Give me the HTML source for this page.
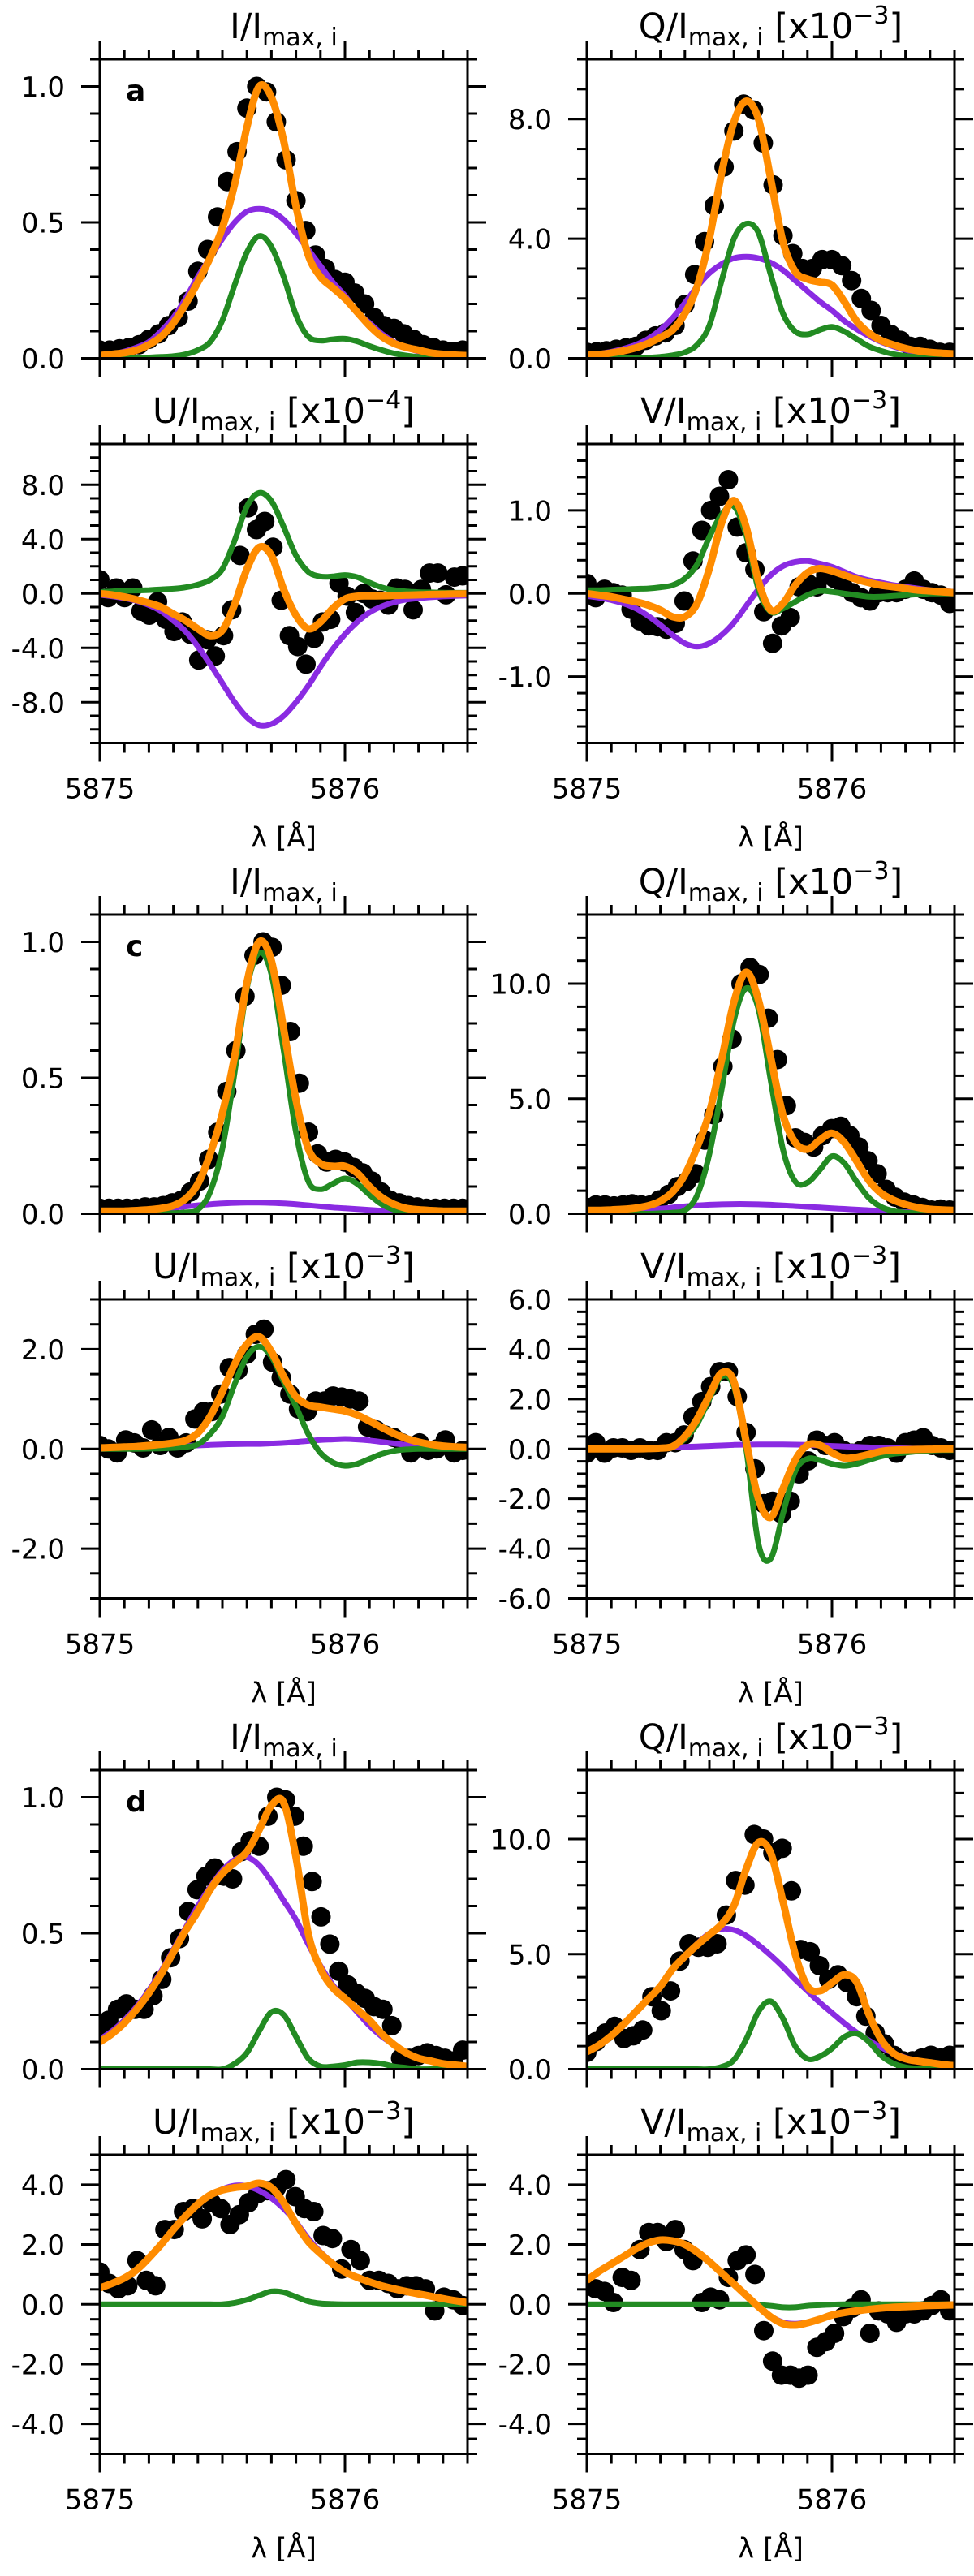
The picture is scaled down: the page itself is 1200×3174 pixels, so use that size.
<!DOCTYPE html>
<html><head><meta charset="utf-8"><style>
html,body{margin:0;padding:0;background:#fff;}
svg{display:block;font-family:"DejaVu Sans","Liberation Sans",sans-serif;}
</style></head><body>
<svg id="fig" xmlns="http://www.w3.org/2000/svg" width="1200" height="3174" viewBox="0 0 1200 3174">
<rect x="0" y="0" width="1200" height="3174" fill="#fff"/>
</svg>
<script>
// wavelength grid of the model curves (Å)
const lam = [5875.00,5875.05,5875.10,5875.15,5875.20,5875.25,5875.30,5875.35,5875.40,5875.45,5875.50,5875.55,5875.60,5875.65,5875.70,5875.75,5875.80,5875.85,5875.90,5875.95,5876.00,5876.05,5876.10,5876.15,5876.20,5876.25,5876.30,5876.35,5876.40,5876.45,5876.50];
const xTickMajor = [5875, 5876];
const xTickLabels = ["5875", "5876"];

// ---- panel a ----
const Ia_p = [.01,.015,.025,.04,.06,.1,.15,.22,.3,.37,.44,.5,.54,.55,.54,.51,.46,.4,.34,.28,.23,.17,.13,.09,.06,.04,.025,.015,.01,.005,.003];
const Ia_g = [0,0,0,.002,.003,.005,.008,.015,.03,.06,.14,.27,.39,.45,.41,.3,.16,.08,.065,.07,.072,.062,.045,.03,.018,.01,.005,.003,.002,.001,0];
const Ia_o = [.01,.015,.02,.03,.05,.08,.13,.2,.28,.37,.48,.64,.85,1.0,.96,.8,.56,.38,.3,.26,.22,.17,.12,.08,.055,.04,.03,.02,.015,.012,.01];
const Ia_d = [.03,.03,.035,.04,.05,.07,.09,.12,.15,.21,.32,.4,.52,.65,.76,.92,1.0,.98,.87,.73,.58,.47,.38,.33,.29,.28,.24,.2,.15,.12,.11,.09,.07,.05,.04,.03,.025,.03];

const Qa_p = [.1,.15,.22,.32,.45,.65,.95,1.35,1.85,2.4,2.85,3.15,3.35,3.4,3.35,3.2,2.95,2.6,2.25,1.9,1.6,1.25,.98,.75,.55,.4,.28,.2,.14,.1,.07];
const Qa_g = [0,0,0,0,.01,.02,.05,.1,.2,.45,1.1,2.6,4.0,4.5,4.2,2.8,1.5,.9,.8,.95,1.05,.9,.65,.4,.25,.14,.08,.04,.02,.01,0];
const Qa_o = [.1,.13,.18,.25,.35,.5,.7,.95,1.5,2.4,4.0,6.2,7.9,8.6,8.0,6.0,3.9,2.9,2.65,2.55,2.45,1.9,1.25,.85,.6,.45,.33,.25,.2,.17,.15];
const Qa_d = [.2,.22,.25,.3,.35,.4,.6,.75,.85,1.1,1.8,2.8,3.9,5.1,6.4,7.6,8.5,8.3,7.2,5.8,4.1,3.5,3.0,3.0,3.3,3.3,3.1,2.6,2.0,1.6,1.1,.8,.6,.4,.4,.3,.2,.2];

const Ua_p = [-.1,-.2,-.35,-.55,-.85,-1.3,-2.0,-2.8,-3.9,-5.2,-6.6,-8.0,-9.1,-9.7,-9.6,-9.0,-8.0,-6.8,-5.4,-4.1,-3.0,-2.1,-1.4,-.95,-.65,-.45,-.35,-.28,-.22,-.18,-.15];
const Ua_g = [.1,.15,.2,.22,.25,.3,.35,.45,.65,1.0,1.8,3.9,6.4,7.4,6.8,4.9,2.8,1.6,1.25,1.25,1.35,1.2,.8,.45,.25,.15,.1,.08,.06,.05,.05];
const Ua_o = [0,-.1,-.25,-.45,-.7,-1.0,-1.5,-2.0,-2.6,-3.1,-2.7,-.8,1.8,3.4,2.8,.3,-1.6,-2.6,-2.1,-1.1,-.4,-.2,-.18,-.17,-.15,-.12,-.1,-.07,-.05,-.03,-.02];
const Ua_d = [1.0,-.3,.4,-.3,.4,-1.3,-1.6,-.6,-1.9,-2.8,-2.1,-3.0,-4.9,-3.4,-4.6,-3.1,-1.2,2.8,6.3,4.7,5.3,3.4,-.5,-3.1,-3.9,-5.2,-3.3,-2.1,-1.9,.75,-.2,-1.4,0,-.4,-.5,-.85,.4,.3,-1.2,.3,1.5,1.5,-.1,1.2,1.3];

const Va_p = [-.03,-.05,-.08,-.12,-.18,-.27,-.38,-.5,-.6,-.64,-.6,-.5,-.35,-.15,.05,.22,.33,.38,.39,.36,.32,.26,.2,.16,.13,.1,.08,.06,.04,.03,.02];
const Va_g = [.04,.04,.045,.05,.055,.06,.075,.1,.18,.35,.68,.95,1.05,.7,.05,-.22,-.18,-.1,-.02,.03,.02,0,-.02,-.04,-.04,-.03,-.02,-.01,0,0,0];
const Va_o = [0,-.02,-.04,-.07,-.1,-.14,-.2,-.28,-.28,-.12,.3,.85,1.12,.8,.15,-.2,-.12,.1,.25,.3,.27,.22,.17,.13,.1,.08,.06,.04,.03,.02,.01];
const Va_d = [.12,-.05,.05,.01,-.02,-.19,-.33,-.39,-.4,-.43,-.36,-.09,.39,.76,1.0,1.17,1.37,.8,.49,.29,-.22,-.6,-.39,-.29,.08,.12,.08,.22,.18,.08,.01,-.05,-.09,.01,.01,.01,.05,.15,.05,.01,-.02,-.12];

// ---- panel c ----
const Ic_p = [.005,.006,.008,.01,.013,.017,.022,.027,.031,.035,.038,.04,.041,.041,.04,.038,.035,.031,.027,.023,.02,.017,.014,.011,.009,.007,.006,.005,.004,.003,.003];
const Ic_g = [0,0,0,0,0,0,.002,.005,.015,.08,.24,.52,.83,.96,.88,.6,.3,.12,.09,.11,.13,.11,.07,.035,.015,.006,.002,0,0,0,0];
const Ic_o = [.01,.01,.01,.012,.015,.02,.03,.055,.11,.22,.37,.58,.85,1.0,.93,.68,.42,.24,.185,.175,.175,.15,.1,.06,.035,.02,.015,.012,.01,.01,.01];
const Ic_d = [.02,.02,.02,.02,.02,.025,.025,.03,.04,.05,.08,.12,.2,.3,.45,.6,.8,.95,1.0,.98,.84,.67,.48,.3,.22,.19,.2,.19,.17,.15,.12,.08,.05,.04,.03,.025,.02,.02,.02,.02,.02];

const Qc_p = [.05,.06,.08,.1,.13,.17,.22,.27,.32,.36,.39,.41,.42,.42,.41,.39,.36,.33,.3,.27,.24,.21,.18,.15,.12,.09,.07,.05,.04,.03,.02];
const Qc_g = [0,0,0,0,0,0,.02,.05,.15,.8,2.6,5.4,8.4,9.8,8.9,5.8,2.8,1.4,1.35,1.9,2.5,2.2,1.4,.7,.3,.12,.05,.02,0,0,0];
const Qc_o = [.15,.15,.17,.2,.25,.35,.55,.95,1.7,2.9,4.4,6.7,9.2,10.5,9.3,6.8,4.3,3.1,2.8,3.2,3.5,3.1,2.3,1.45,.9,.6,.4,.27,.2,.17,.15];
const Qc_d = [.27,.38,.38,.34,.38,.43,.38,.38,.6,.84,1.18,1.4,1.74,3.2,4.3,6.4,7.6,10.0,10.7,10.4,8.5,6.7,4.7,3.3,3.1,2.9,3.4,3.7,3.8,3.4,2.9,2.3,1.74,1.06,.72,.5,.38,.27,.16,.2,.16];

const Uc_p = [0,.005,.01,.02,.03,.04,.05,.06,.07,.08,.09,.095,.1,.1,.11,.12,.14,.16,.18,.19,.2,.19,.17,.14,.11,.08,.06,.04,.03,.02,.01];
const Uc_g = [0,0,0,0,.005,.01,.02,.04,.09,.3,.65,1.3,1.85,2.05,1.85,1.35,.85,.3,-.08,-.27,-.34,-.3,-.2,-.1,-.04,-.01,0,0,0,0,0];
const Uc_o = [.02,.03,.04,.05,.07,.09,.12,.17,.32,.65,1.15,1.7,2.1,2.25,1.95,1.45,1.05,.88,.84,.8,.76,.68,.56,.43,.31,.21,.14,.09,.06,.04,.03];
const Uc_d = [.07,0,-.08,.18,.12,.02,.38,.07,.23,.02,.12,.6,.75,.75,1.1,1.63,1.58,1.9,2.3,2.4,1.74,1.43,1.1,.8,.75,.96,.96,1.06,1.04,1.0,.96,.44,.38,.28,.23,.12,-.08,.12,-.03,0,.18,-.08,-.03];

const Vc_p = [0,0,.01,.01,.02,.03,.04,.06,.08,.1,.12,.14,.16,.17,.18,.18,.18,.17,.16,.14,.12,.1,.08,.06,.04,.03,.02,.01,.01,0,0];
const Vc_g = [0,0,0,0,0,.01,.02,.1,.4,1.0,2.0,2.9,2.5,0,-3.8,-4.4,-2.6,-.9,-.4,-.45,-.6,-.68,-.6,-.45,-.3,-.2,-.15,-.1,-.07,-.05,-.05];
const Vc_o = [0,0,0,0,0,.01,.03,.1,.5,1.2,2.15,3.05,2.7,.3,-2.0,-2.75,-1.6,-.45,.15,.15,-.15,-.37,-.33,-.22,-.1,-.05,-.03,-.02,-.01,0,0];
const Vc_d = [-.17,.25,-.17,.04,.04,-.06,.04,-.06,-.06,.25,.25,.56,1.28,1.9,2.5,3.1,3.1,2.1,.66,-.8,-2.2,-2.1,-2.6,-2.1,-1.0,-.48,.35,.14,.25,-.06,-.17,-.06,.14,.14,.04,-.17,.25,.35,.45,.14,.04,-.06];

// ---- panel d ----
const Id_p = [.11,.14,.18,.23,.29,.36,.44,.52,.6,.67,.73,.77,.78,.75,.69,.62,.55,.46,.38,.31,.26,.21,.16,.12,.09,.06,.04,.03,.02,.015,.01];
const Id_g = [0,0,0,0,0,0,0,0,0,0,0,.02,.06,.14,.21,.2,.12,.04,.01,.01,.015,.025,.025,.02,.01,.005,0,0,0,0,0];
const Id_o = [.1,.13,.17,.22,.28,.35,.43,.51,.58,.66,.72,.76,.8,.88,.97,.98,.78,.5,.37,.3,.26,.22,.18,.13,.09,.06,.04,.03,.02,.015,.01];
const Id_d = [.15,.18,.22,.24,.22,.22,.27,.33,.41,.48,.58,.66,.71,.74,.71,.7,.8,.84,.82,.93,1.0,.99,.93,.82,.69,.56,.46,.36,.31,.28,.26,.23,.22,.16,.04,.04,.05,.06,.05,.04,.03,.07];

const Qd_p = [.75,1.05,1.45,1.95,2.5,3.05,3.6,4.35,4.9,5.45,5.9,6.1,6.05,5.8,5.4,4.95,4.45,3.9,3.4,2.9,2.45,2.0,1.6,1.25,.95,.7,.5,.35,.25,.18,.12];
const Qd_g = [0,0,0,0,0,0,0,0,0,0,0,.1,.4,1.3,2.5,2.95,2.2,1.0,.45,.55,.9,1.4,1.55,1.2,.6,.25,.08,.02,0,0,0];
const Qd_o = [.75,1.05,1.45,1.95,2.5,3.05,3.6,4.35,4.9,5.4,5.85,6.3,7.1,8.7,9.85,9.4,7.3,5.0,3.6,3.4,3.75,4.1,3.8,2.4,1.3,.7,.45,.35,.28,.2,.15];
const Qd_d = [.73,1.2,1.57,1.86,1.33,1.45,1.7,3.15,2.54,3.4,4.7,5.45,5.3,5.3,5.45,6.7,8.2,8.0,10.2,10.0,9.4,9.6,7.75,5.2,5.1,4.5,3.9,4.1,3.75,3.15,2.3,1.57,1.1,.6,.36,.36,.48,.6,.48,.6];

const Ud_p = [.55,.7,.88,1.15,1.55,2.0,2.5,2.95,3.35,3.65,3.85,3.97,3.95,3.8,3.55,3.2,2.75,2.2,1.75,1.38,1.1,.9,.75,.62,.52,.43,.35,.27,.19,.12,.06];
const Ud_g = [0,0,0,0,0,0,0,0,0,0,0,.05,.15,.3,.43,.4,.25,.1,.03,.01,0,0,0,0,0,0,0,0,0,0,0];
const Ud_o = [.55,.7,.88,1.15,1.55,2.0,2.5,2.95,3.35,3.65,3.82,3.9,3.95,4.05,3.9,3.4,2.7,2.1,1.7,1.35,1.08,.9,.75,.62,.52,.43,.35,.27,.19,.12,.06];
const Ud_d = [1.08,.7,.52,.62,1.46,.8,.62,2.5,2.5,3.1,3.2,2.86,3.4,3.2,2.67,3.0,3.4,3.7,3.8,3.9,4.17,3.6,3.2,3.1,2.3,2.2,1.18,1.83,1.46,.8,.8,.7,.52,.62,.62,.52,-.22,.24,.15,-.04];

const Vd_p = [.8,1.1,1.35,1.6,1.85,2.05,2.15,2.12,2.0,1.75,1.42,1.05,.68,.3,-.08,-.4,-.6,-.65,-.6,-.5,-.36,-.28,-.22,-.17,-.13,-.1,-.08,-.06,-.04,-.03,-.02];
const Vd_g = [0,0,0,0,0,0,0,0,0,0,0,0,0,0,-.02,-.05,-.1,-.1,-.05,-.03,-.01,0,0,0,0,0,0,0,0,0,0];
const Vd_o = [.8,1.1,1.35,1.6,1.85,2.05,2.15,2.12,2.0,1.75,1.42,1.05,.68,.3,-.08,-.42,-.65,-.7,-.62,-.5,-.36,-.28,-.22,-.17,-.13,-.1,-.08,-.06,-.04,-.03,-.02];
const Vd_d = [.6,.52,.43,.06,.9,.8,1.83,2.4,2.4,2.1,2.5,1.83,1.46,.06,.24,.15,.9,1.46,1.65,1.0,-.88,-1.9,-2.37,-2.37,-2.47,-2.37,-1.44,-1.25,-.97,-.41,-.13,.15,-.97,-.22,-.32,-.6,-.32,-.32,-.22,-.04,.15,-.22];

// ---- layout (styling, not data) ----
const NS = "http://www.w3.org/2000/svg";
const svg = document.getElementById("fig");
const COLX = [123, 723];
const PXPERA = 302;
const SECOFF = 1054;
const ROWTOP = [73, 547];
const ROWH = 368.5;
const C_P = "#8a2be2", C_G = "#228b22", C_O = "#ff8c00";

function el(tag, attrs, parent) {
  const e = document.createElementNS(NS, tag);
  for (const k in attrs) e.setAttribute(k, attrs[k]);
  (parent || svg).appendChild(e);
  return e;
}

function smoothPath(pts) {
  let d = "M" + pts[0][0].toFixed(1) + "," + pts[0][1].toFixed(1);
  for (let i = 0; i < pts.length - 1; i++) {
    const p0 = pts[Math.max(0, i - 1)], p1 = pts[i], p2 = pts[i + 1], p3 = pts[Math.min(pts.length - 1, i + 2)];
    const c1x = p1[0] + (p2[0] - p0[0]) / 6, c1y = p1[1] + (p2[1] - p0[1]) / 6;
    const c2x = p2[0] - (p3[0] - p1[0]) / 6, c2y = p2[1] - (p3[1] - p1[1]) / 6;
    d += " C" + c1x.toFixed(1) + "," + c1y.toFixed(1) + " " + c2x.toFixed(1) + "," + c2y.toFixed(1) + " " + p2[0].toFixed(1) + "," + p2[1].toFixed(1);
  }
  return d;
}

const panels = [
  {sec:0,row:0,col:0,kind:"I",exp:"",ymin:0,ymax:1.1,maj:0.5,min:0.1,p:Ia_p,g:Ia_g,o:Ia_o,d:Ia_d,lab:"a",name:"panel-a-i"},
  {sec:0,row:0,col:1,kind:"Q",exp:"−3",ymin:0,ymax:10,maj:4,min:1,p:Qa_p,g:Qa_g,o:Qa_o,d:Qa_d,name:"panel-a-q"},
  {sec:0,row:1,col:0,kind:"U",exp:"−4",ymin:-11,ymax:11,maj:4,min:1,p:Ua_p,g:Ua_g,o:Ua_o,d:Ua_d,name:"panel-a-u"},
  {sec:0,row:1,col:1,kind:"V",exp:"−3",ymin:-1.8,ymax:1.8,maj:1,min:0.2,p:Va_p,g:Va_g,o:Va_o,d:Va_d,name:"panel-a-v"},
  {sec:1,row:0,col:0,kind:"I",exp:"",ymin:0,ymax:1.1,maj:0.5,min:0.1,p:Ic_p,g:Ic_g,o:Ic_o,d:Ic_d,lab:"c",name:"panel-c-i"},
  {sec:1,row:0,col:1,kind:"Q",exp:"−3",ymin:0,ymax:13,maj:5,min:1,p:Qc_p,g:Qc_g,o:Qc_o,d:Qc_d,name:"panel-c-q"},
  {sec:1,row:1,col:0,kind:"U",exp:"−3",ymin:-3,ymax:3,maj:2,min:0.5,p:Uc_p,g:Uc_g,o:Uc_o,d:Uc_d,name:"panel-c-u"},
  {sec:1,row:1,col:1,kind:"V",exp:"−3",ymin:-6,ymax:6,maj:2,min:0.5,p:Vc_p,g:Vc_g,o:Vc_o,d:Vc_d,name:"panel-c-v"},
  {sec:2,row:0,col:0,kind:"I",exp:"",ymin:0,ymax:1.1,maj:0.5,min:0.1,p:Id_p,g:Id_g,o:Id_o,d:Id_d,lab:"d",name:"panel-d-i"},
  {sec:2,row:0,col:1,kind:"Q",exp:"−3",ymin:0,ymax:13,maj:5,min:1,p:Qd_p,g:Qd_g,o:Qd_o,d:Qd_d,name:"panel-d-q"},
  {sec:2,row:1,col:0,kind:"U",exp:"−3",ymin:-5,ymax:5,maj:2,min:0.5,p:Ud_p,g:Ud_g,o:Ud_o,d:Ud_d,name:"panel-d-u"},
  {sec:2,row:1,col:1,kind:"V",exp:"−3",ymin:-5,ymax:5,maj:2,min:0.5,p:Vd_p,g:Vd_g,o:Vd_o,d:Vd_d,name:"panel-d-v"}
];

panels.forEach(function (P, pi) {
  const x0 = COLX[P.col], x1 = x0 + 1.5 * PXPERA;
  const top = ROWTOP[P.row] + P.sec * SECOFF, bot = top + ROWH;
  const xs = function (l) { return x0 + (l - 5875) * PXPERA; };
  const ys = function (v) { return bot - (v - P.ymin) / (P.ymax - P.ymin) * ROWH; };
  const g = el("g", {});
  
  

  const cp = el("clipPath", {id: "clip" + pi}, g);
  el("rect", {x: x0, y: top, width: x1 - x0, height: bot - top}, cp);

  // dots
  const dg = el("g", {"clip-path": "url(#clip" + pi + ")"}, g);
  
  
  const n = P.d.length;
  P.d.forEach(function (v, i) {
    const l = 5875 + i * 1.48 / (n - 1);
    const c = el("circle", {cx: xs(l).toFixed(1), cy: ys(v).toFixed(1), r: 12, fill: "#000"}, dg);
    
    
  });

  // curves
  [[P.p, C_P, 7, "component-1-fit"], [P.g, C_G, 7, "component-2-fit"], [P.o, C_O, 9, "total-fit"]].forEach(function (c) {
    const pts = c[0].map(function (v, i) { return [xs(lam[i]), ys(v)]; });
    const pl = el("path", {d: smoothPath(pts), fill: "none", stroke: c[1], "stroke-width": c[2], "stroke-linejoin": "round", "stroke-linecap": "butt", "clip-path": "url(#clip" + pi + ")"}, g);
    
    
  });

  // spines
  const sp = el("rect", {x: x0, y: top, width: x1 - x0, height: bot - top, fill: "none", stroke: "#000", "stroke-width": 3}, g);
  
  

  // x ticks
  const tk = el("g", {stroke: "#000", "stroke-width": 3}, g);
  
  
  for (let k = 0; k <= 15; k++) {
    const l = 5875 + k * 0.1;
    const isMaj = xTickMajor.some(function (m) { return Math.abs(m - l) < 1e-6; });
    const len = isMaj ? 23 : 12;
    const x = xs(l);
    el("line", {x1: x, y1: bot, x2: x, y2: bot + len}, tk);
    el("line", {x1: x, y1: top, x2: x, y2: top - len}, tk);
  }
  // y ticks
  const start = Math.ceil(P.ymin / P.min - 1e-6);
  for (let k = start; k * P.min <= P.ymax + 1e-6; k++) {
    const v = k * P.min;
    const r = v / P.maj;
    const isMaj = Math.abs(r - Math.round(r)) < 1e-6;
    const len = isMaj ? 23 : 12;
    const y = ys(v);
    el("line", {x1: x0, y1: y, x2: x0 - len, y2: y}, tk);
    el("line", {x1: x1, y1: y, x2: x1 + len, y2: y}, tk);
    if (isMaj) {
      const t = el("text", {x: x0 - 43, y: (y + 12.5).toFixed(1), "text-anchor": "end", "font-size": 34, fill: "#000"}, g);
      
      
      t.textContent = (Math.abs(v) < 1e-9 ? 0 : v).toFixed(1);
    }
  }

  // title
  const cx = (x0 + x1) / 2;
  const tt = el("text", {x: cx, y: top - 26, "text-anchor": "middle", "font-size": 43, fill: "#000"}, g);
  
  
  const t1 = el("tspan", {}, tt); t1.textContent = P.kind + "/I";
  const t2 = el("tspan", {"font-size": 30, dy: 9}, tt); t2.textContent = "max, i";
  if (P.exp) {
    const t3 = el("tspan", {dy: -9}, tt); t3.textContent = " [x10";
    const t4 = el("tspan", {"font-size": 30, dy: -18}, tt); t4.textContent = P.exp;
    const t5 = el("tspan", {dy: 18}, tt); t5.textContent = "]";
  }

  // panel letter
  if (P.lab) {
    const pl = el("text", {x: x0 + 32, y: top + 51, "font-size": 36, "font-weight": "bold", fill: "#000"}, g);
    
    
    pl.textContent = P.lab;
  }

  // x labels on bottom row
  if (P.row === 1) {
    xTickMajor.forEach(function (m, i) {
      const xl = el("text", {x: xs(m), y: bot + 68, "text-anchor": "middle", "font-size": 34, fill: "#000"}, g);
      
      
      xl.textContent = xTickLabels[i];
    });
    const xt = el("text", {x: cx, y: bot + 128, "text-anchor": "middle", "font-size": 34, fill: "#000"}, g);
    
    
    xt.textContent = "λ [Å]";
  }
});
</script>
</body></html>
